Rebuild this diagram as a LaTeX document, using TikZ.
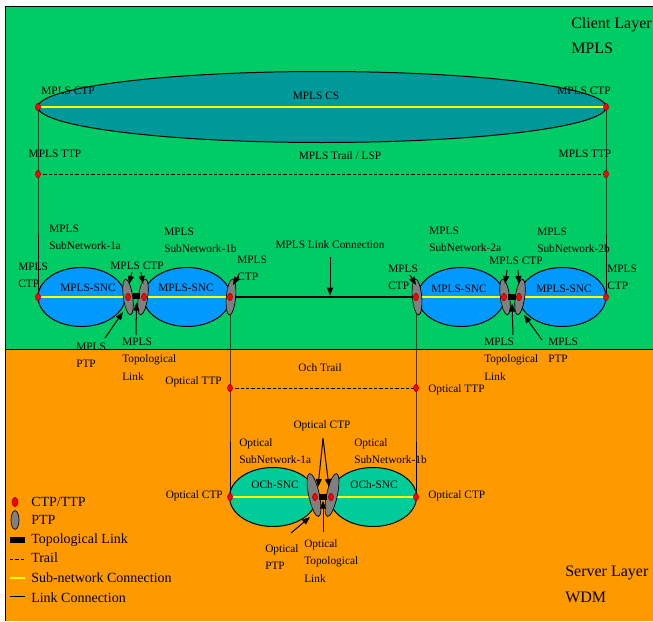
\documentclass[tikz,border=0pt]{standalone}
\usepackage{fontspec}
\setmainfont{Liberation Serif}
\usetikzlibrary{shapes.geometric, arrows.meta, positioning, calc}
\definecolor{ClientGreen}{HTML}{00CC66}
\definecolor{ServerOrange}{HTML}{FF9900}
\definecolor{CsTeal}{HTML}{009999}
\definecolor{SncBlue}{HTML}{0099FF}
\definecolor{OchGreen}{HTML}{00CC99}
\definecolor{PtpGray}{HTML}{808080}
\definecolor{DotRim}{HTML}{990000}
\definecolor{SncYellow}{HTML}{FFFF00}

\begin{document}
\begin{tikzpicture}[x=0.75pt, y=-0.75pt,
    lbl/.style={inner sep=0pt, font=\fontsize{8.5}{13}\selectfont, align=left},
    lgd/.style={inner sep=0pt, font=\fontsize{10.5}{12}\selectfont, anchor=west},
    big/.style={inner sep=0pt, font=\fontsize{12}{14}\selectfont, anchor=west},
    snc/.style={ellipse, draw=black, line width=0.75pt, minimum width=65.25pt,
                minimum height=44.25pt, inner sep=0pt},
    tp/.style={ellipse, draw=DotRim, fill=red, line width=0.4pt, inner sep=0pt,
               minimum width=3.75pt, minimum height=5.5pt},
    ptp/.style={ellipse, draw=black, fill=PtpGray, line width=0.5pt, inner sep=0pt,
                minimum width=7pt, minimum height=27pt},
    optp/.style={ptp, minimum width=8pt, minimum height=33pt},
    toplink/.style={rectangle, fill=black, inner sep=0pt,
                    minimum width=5.5pt, minimum height=5pt},
    snconn/.style={draw=SncYellow, line width=1.1pt},
    linkconn/.style={draw=black, line width=1.5pt},
    trail/.style={draw=black, line width=0.6pt, dash pattern=on 2.5pt off 1.5pt},
    riser/.style={draw=black, line width=0.6pt},
    ptr/.style={draw=black, line width=0.75pt, -{Triangle[length=6pt,width=4.5pt]}}
  ]
  \useasboundingbox (0,0) rectangle (653,621);
  \fill[white] (0,0) rectangle (653,621);
  \fill[ClientGreen] (5,6) rectangle (653,349);
  \fill[ServerOrange] (5,349) rectangle (653,621);
  \draw[line width=0.75pt] (5,621) -- (5,6) -- (653,6);
  \draw[line width=0.75pt] (5,349) -- (653,349);

  \coordinate (ctpL) at (38,107);
  \coordinate (ctpR) at (606,107);
  \coordinate (ttpL) at (38,174);
  \coordinate (ttpR) at (606,174);
  \coordinate (c1aL) at (38,297);
  \coordinate (c1aR) at (128,297);
  \coordinate (c1bL) at (144,297);
  \coordinate (c1bR) at (230,297);
  \coordinate (c2aL) at (416,297);
  \coordinate (c2aR) at (504,297);
  \coordinate (c2bL) at (519,297);
  \coordinate (c2bR) at (606,297);
  \coordinate (ottpL) at (230,388);
  \coordinate (ottpR) at (416,388);
  \coordinate (octpL) at (230,497);
  \coordinate (oc1aR) at (315,497);
  \coordinate (oc1bL) at (331,497);
  \coordinate (octpR) at (416,497);

  \node[ellipse, draw=black, line width=0.75pt, fill=CsTeal, inner sep=0pt,
        minimum width=426pt, minimum height=53.25pt] (cs) at (322,107) {};
  \node[snc, fill=SncBlue] (snc1a) at (81.5,297) {};
  \node[snc, fill=SncBlue] (snc1b) at (187,297) {};
  \node[snc, fill=SncBlue] (snc2a) at (461,297) {};
  \node[snc, fill=SncBlue] (snc2b) at (562.5,297) {};
  \node[snc, fill=OchGreen] (och1a) at (273,497) {};
  \node[snc, fill=OchGreen] (och1b) at (373,497) {};

  \draw[snconn] (ctpL) -- (ctpR);
  \draw[snconn] (c1aL) -- (c1aR);
  \draw[snconn] (c1bL) -- (c1bR);
  \draw[snconn] (c2aL) -- (c2aR);
  \draw[snconn] (c2bL) -- (c2bR);
  \draw[snconn] (octpL) -- (oc1aR);
  \draw[snconn] (oc1bL) -- (octpR);
  \draw[linkconn] (c1bR) -- (c2aL);
  \draw[riser] (ctpL) -- (ttpL) -- (c1aL);
  \draw[riser] (ctpR) -- (ttpR) -- (c2bR);
  \draw[riser] (c1bR) -- (ottpL) -- (octpL);
  \draw[riser] (c2aL) -- (ottpR) -- (octpR);
  \draw[trail] (ttpL) -- (ttpR);
  \draw[trail] (ottpL) -- (ottpR);

  \node[ptp, rotate=8] (p1a) at (128,297) {};
  \node[ptp, rotate=-8] (p1b) at (143,297) {};
  \node[ptp, rotate=-5] (p1bR) at (231,297) {};
  \node[ptp, rotate=5] (p2aL) at (417,297) {};
  \node[ptp, rotate=8] (p2aR) at (505,297) {};
  \node[ptp, rotate=-8] (p2b) at (520,297) {};
  \node[optp, rotate=12] (op1a) at (314,495) {};
  \node[optp, rotate=-12] (op1b) at (332,495) {};
  \node[toplink] (tl1) at (136.5,296) {};
  \node[toplink] (tl2) at (512,297) {};
  \node[toplink] (otl) at (323,497) {};

  \node[tp] (ctpL-tp) at (ctpL) {};
  \node[tp] (ctpR-tp) at (ctpR) {};
  \node[tp] (ttpL-tp) at (ttpL) {};
  \node[tp] (ttpR-tp) at (ttpR) {};
  \node[tp] (c1aL-tp) at (c1aL) {};
  \node[tp] (c1aR-tp) at (c1aR) {};
  \node[tp] (c1bL-tp) at (c1bL) {};
  \node[tp] (c1bR-tp) at (c1bR) {};
  \node[tp] (c2aL-tp) at (c2aL) {};
  \node[tp] (c2aR-tp) at (c2aR) {};
  \node[tp] (c2bL-tp) at (c2bL) {};
  \node[tp] (c2bR-tp) at (c2bR) {};
  \node[tp] (ottpL-tp) at (ottpL) {};
  \node[tp] (ottpR-tp) at (ottpR) {};
  \node[tp] (octpL-tp) at (octpL) {};
  \node[tp] (oc1aR-tp) at (oc1aR) {};
  \node[tp] (oc1bL-tp) at (oc1bL) {};
  \node[tp] (octpR-tp) at (octpR) {};

  \node[big] (client-lbl) at (571,25) {Client Layer};
  \node[big] (client-sub) at (571,48) {MPLS};
  \node[big] (server-lbl) at (565,573) {Server Layer};
  \node[big] (server-sub) at (565,597) {WDM};

  \node[lbl] (cs-lbl) at (316,96) {MPLS CS};
  \node[lbl] (ctpL-lbl) at (68,91) {MPLS CTP};
  \node[lbl] (ctpR-lbl) at (584,91) {MPLS CTP};
  \node[lbl] (ttpL-lbl) at (55,154) {MPLS TTP};
  \node[lbl] (ttpR-lbl) at (585,154) {MPLS TTP};
  \node[lbl] (lsp-lbl) at (340,156) {MPLS Trail / LSP};

  \node[lbl, anchor=west] (sn1a-lbl) at (49,237) {MPLS\\SubNetwork-1a};
  \node[lbl, anchor=west] (sn1b-lbl) at (164,240) {MPLS\\SubNetwork-1b};
  \node[lbl, anchor=west] (sn2a-lbl) at (429,239) {MPLS\\SubNetwork-2a};
  \node[lbl, anchor=west] (sn2b-lbl) at (537,240) {MPLS\\SubNetwork-2b};
  \node[lbl] (snc1a-lbl) at (88,288) {MPLS-SNC};
  \node[lbl] (snc1b-lbl) at (186,288) {MPLS-SNC};
  \node[lbl] (snc2a-lbl) at (459,289) {MPLS-SNC};
  \node[lbl] (snc2b-lbl) at (564,289) {MPLS-SNC};
  \node[lbl, anchor=west] (c1aL-lbl) at (18,275) {MPLS\\CTP};
  \node[lbl] (c1x-lbl) at (137,266) {MPLS CTP};
  \node[lbl, anchor=west] (c1bR-lbl) at (237,268) {MPLS\\CTP};
  \node[lbl] (link-lbl) at (330,245) {MPLS Link Connection};
  \node[lbl, anchor=west] (c2aL-lbl) at (388,277) {MPLS\\CTP};
  \node[lbl] (c2x-lbl) at (516,261) {MPLS CTP};
  \node[lbl, anchor=west] (c2bR-lbl) at (607,277) {MPLS\\CTP};
  \node[lbl, anchor=west] (ptp1-lbl) at (76,355) {MPLS\\PTP};
  \node[lbl, anchor=west] (tl1-lbl) at (122,359) {MPLS\\Topological\\Link};
  \node[lbl, anchor=west] (tl2-lbl) at (484,359) {MPLS\\Topological\\Link};
  \node[lbl, anchor=west] (ptp2-lbl) at (548,350) {MPLS\\PTP};

  \node[lbl] (och-lbl) at (320,368) {Och Trail};
  \node[lbl, anchor=east] (ottpL-lbl) at (222,382) {Optical TTP};
  \node[lbl, anchor=west] (ottpR-lbl) at (428,390) {Optical TTP};
  \node[lbl] (octpx-lbl) at (322,426) {Optical CTP};
  \node[lbl, anchor=west] (osn1a-lbl) at (239,451) {Optical\\SubNetwork-1a};
  \node[lbl, anchor=west] (osn1b-lbl) at (354,451) {Optical\\SubNetwork-1b};
  \node[lbl] (och1a-lbl) at (275,485) {OCh-SNC};
  \node[lbl] (och1b-lbl) at (374,485) {OCh-SNC};
  \node[lbl, anchor=east] (octpL-lbl) at (223,496) {Optical CTP};
  \node[lbl, anchor=west] (octpR-lbl) at (428,496) {Optical CTP};
  \node[lbl, anchor=west] (optp-lbl) at (265,557) {Optical\\PTP};
  \node[lbl, anchor=west] (otl-lbl) at (304,561) {Optical\\Topological\\Link};

  \draw[ptr] ($(c1x-lbl.south)+(-5,2)$) -- ($(p1a)+(1,-13)$);
  \draw[ptr] ($(c1x-lbl.south)+(4,2)$) -- ($(p1b)+(0,-13)$);
  \draw[ptr] ($(c1bR-lbl.west)+(1,8)$) -- ($(p1bR)+(2,-12)$);
  \draw[ptr, shorten <=6pt, shorten >=1pt] (link-lbl.south) -- (link-lbl.south |- c1bR);
  \draw[ptr] ($(c2aL-lbl.west)+(22,-2)$) -- ($(p2aL)+(-1,-12)$);
  \draw[ptr] ($(c2x-lbl.south)+(-9,5)$) -- ($(p2aR)+(0,-13)$);
  \draw[ptr] ($(c2x-lbl.south)+(2,5)$) -- ($(p2b)+(-1,-13)$);
  \draw[ptr] ($(ptp1-lbl.west)+(29,-17)$) -- ($(p1a)+(-5,15)$);
  \draw[ptr] ($(tl1-lbl.west)+(14,-24)$) -- ($(tl1.south)+(0,3)$);
  \draw[ptr] ($(tl2-lbl.west)+(29,-24)$) -- ($(tl2.south)+(0,3)$);
  \draw[ptr] ($(ptp2-lbl.west)+(-6,-10)$) -- ($(p2b)+(4,18)$);
  \draw[ptr] ($(octpx-lbl.south)+(1,7)$) -- ($(op1a)+(4,-8)$);
  \draw[ptr] ($(octpx-lbl.south)+(1,7)$) -- ($(op1b)+(-3,-8)$);
  \draw[ptr] ($(optp-lbl.west)+(26,-24)$) -- ($(op1a)+(-4,22)$);
  \draw[ptr] ($(otl-lbl.west)+(19,-29)$) -- (otl.south);

  \node[tp, minimum width=4.5pt, minimum height=7pt] (lg-tp) at (15,502) {};
  \node[lgd] (lg-tp-lbl) at (31,502) {CTP/TTP};
  \node[ptp, minimum width=6pt, minimum height=14pt] (lg-ptp) at (15,520) {};
  \node[lgd] (lg-ptp-lbl) at (31,520) {PTP};
  \node[toplink, minimum width=11pt, minimum height=4pt] (lg-tl) at (17.5,540) {};
  \node[lgd] (lg-tl-lbl) at (31,540) {Topological Link};
  \draw[trail] (10,559) -- ++(15,0);
  \node[lgd] (lg-trail-lbl) at (31,558) {Trail};
  \draw[snconn] (10,578) -- ++(15,0);
  \node[lgd] (lg-snc-lbl) at (31,578) {Sub-network Connection};
  \draw[line width=0.75pt] (10,596) -- ++(15,0);
  \node[lgd] (lg-lc-lbl) at (31,598) {Link Connection};
\end{tikzpicture}
\end{document}
